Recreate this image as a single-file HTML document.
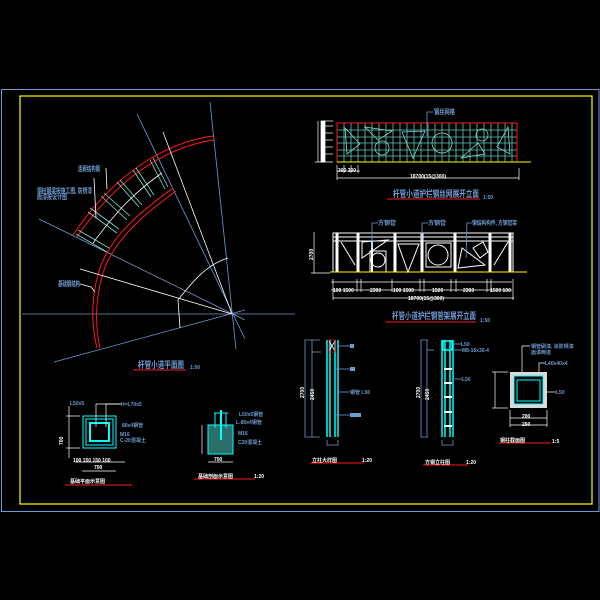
<!DOCTYPE html>
<html><head><meta charset="utf-8"><style>
html,body{margin:0;padding:0;background:#000;}
svg{display:block}
text{font-family:"Liberation Sans","Noto Sans CJK SC",sans-serif;font-weight:bold;}
</style></head><body>
<svg width="600" height="600" viewBox="0 0 600 600" xmlns="http://www.w3.org/2000/svg">
<rect width="600" height="600" fill="#000"/>
<rect x="1.5" y="89.5" width="597.5" height="422" fill="none" stroke="#6f9bd0" stroke-width="1"/>
<rect x="20" y="96" width="572" height="408" fill="none" stroke="#ffff00" stroke-width="1.2"/>

<!-- fan plan -->
<g stroke="#6f9bd0" stroke-width="0.8" fill="none">
<line x1="22" y1="314" x2="295" y2="314"/>
<line x1="39" y1="219" x2="245" y2="320"/>
<line x1="54" y1="362" x2="245" y2="310"/>
<line x1="137" y1="114" x2="245" y2="339"/>
<line x1="210" y1="102" x2="236" y2="349"/>
</g>
<g stroke="#ff1a1a" stroke-width="1" fill="none">
<path d="M213,136 C175,141 120,165 73,235"/>
<path d="M214,140 C177,145 123,169 77,237"/>
<path d="M173,188 C150,205 115,230 101,265 C92,290 90,320 97,348"/>
<path d="M176,191 C153,208 119,233 105,267 C96,292 94,322 100,348"/>
</g>
<g stroke="#7fe0d0" stroke-width="0.8">
<line x1="78" y1="230" x2="109" y2="248"/><line x1="76" y1="234" x2="107" y2="252"/>
<line x1="88" y1="212" x2="117" y2="233"/><line x1="90" y1="208" x2="119" y2="229"/>
<line x1="101" y1="196" x2="127" y2="220"/><line x1="104" y1="193" x2="130" y2="216"/>
<line x1="117" y1="182" x2="139" y2="207"/><line x1="120" y1="180" x2="142" y2="205"/>
<line x1="133" y1="170" x2="151" y2="197"/><line x1="136" y1="168" x2="154" y2="195"/>
<line x1="150" y1="160" x2="165" y2="189"/><line x1="153" y1="158" x2="168" y2="187"/>
</g>
<g stroke="#fff" stroke-width="0.8" fill="none">
<path d="M93,243 C110,220 130,195 162,173"/>
<line x1="163" y1="132" x2="232" y2="314"/>
<line x1="80" y1="269" x2="232" y2="314"/>
<path d="M178,300 C190,285 205,265 228,258"/>
<line x1="178" y1="300" x2="180" y2="328"/>
<line x1="106" y1="168" x2="107" y2="189"/><line x1="94" y1="178" x2="96" y2="218"/>
<path d="M80,284 L91,287 L95,292"/>
</g>
<g fill="#6f9bd0" font-size="7">
<text x="78" y="171" textLength="22" lengthAdjust="spacingAndGlyphs">连廊结构钢</text>
<text x="37" y="193" textLength="55" lengthAdjust="spacingAndGlyphs">钢柱钢梁按施工图, 防锈漆</text>
<text x="37" y="199" textLength="30" lengthAdjust="spacingAndGlyphs">面漆按设计图</text>
<text x="58" y="286" textLength="22" lengthAdjust="spacingAndGlyphs">基础钢结构</text>
<text x="138" y="368" font-size="9" textLength="46" lengthAdjust="spacingAndGlyphs">杆管小道平面图</text>
<text x="190" y="369" font-size="5">1:50</text>
</g>
<line x1="133" y1="370" x2="186" y2="370" stroke="#ff1a1a" stroke-width="1"/>

<!-- grid elevation -->
<g stroke="#5fc8c0" stroke-width="0.8">
<line x1="337" y1="130" x2="517" y2="130"/><line x1="337" y1="137" x2="517" y2="137"/>
<line x1="337" y1="143" x2="517" y2="143"/><line x1="337" y1="150" x2="517" y2="150"/>
<line x1="337" y1="156" x2="517" y2="156"/>
</g>
<g stroke="#5fc8c0" stroke-width="0.8">
<line x1="344" y1="123" x2="344" y2="162"/><line x1="351" y1="123" x2="351" y2="162"/><line x1="358" y1="123" x2="358" y2="162"/><line x1="365" y1="123" x2="365" y2="162"/><line x1="372" y1="123" x2="372" y2="162"/><line x1="379" y1="123" x2="379" y2="162"/><line x1="386" y1="123" x2="386" y2="162"/><line x1="393" y1="123" x2="393" y2="162"/><line x1="400" y1="123" x2="400" y2="162"/><line x1="407" y1="123" x2="407" y2="162"/><line x1="414" y1="123" x2="414" y2="162"/><line x1="421" y1="123" x2="421" y2="162"/><line x1="428" y1="123" x2="428" y2="162"/><line x1="435" y1="123" x2="435" y2="162"/><line x1="442" y1="123" x2="442" y2="162"/><line x1="449" y1="123" x2="449" y2="162"/><line x1="456" y1="123" x2="456" y2="162"/><line x1="463" y1="123" x2="463" y2="162"/><line x1="470" y1="123" x2="470" y2="162"/><line x1="477" y1="123" x2="477" y2="162"/><line x1="484" y1="123" x2="484" y2="162"/><line x1="491" y1="123" x2="491" y2="162"/><line x1="498" y1="123" x2="498" y2="162"/><line x1="505" y1="123" x2="505" y2="162"/><line x1="512" y1="123" x2="512" y2="162"/>
</g>
<g stroke="#7fe0d0" stroke-width="0.8" fill="none">
<path d="M345,128 L360,144 L347,154 Z"/>
<path d="M365,127 L392,131 L378,140 Z"/>
<circle cx="382" cy="148" r="7"/>
<path d="M402,132 L425,131 L413,158 Z"/>
<circle cx="442" cy="143" r="10"/>
<path d="M461,158 L478,143 L485,154 Z"/>
<circle cx="482" cy="135" r="6"/>
<path d="M508,127 L497,147 L510,154 Z"/>
</g>
<rect x="337" y="123" width="180" height="39" fill="none" stroke="#ff1a1a" stroke-width="1"/>
<line x1="337" y1="162" x2="531" y2="162" stroke="#ffff00" stroke-width="1"/>
<g stroke="#fff" stroke-width="0.7" fill="none">
<line x1="318" y1="121" x2="318" y2="162"/><line x1="315" y1="162" x2="333" y2="162"/>
<line x1="323" y1="121" x2="333" y2="121"/><line x1="323" y1="126" x2="333" y2="126"/><line x1="323" y1="133" x2="333" y2="133"/><line x1="323" y1="140" x2="333" y2="140"/><line x1="323" y1="147" x2="333" y2="147"/><line x1="323" y1="154" x2="333" y2="154"/>
<rect x="321" y="121" width="4" height="41" fill="#fff"/>
<line x1="337" y1="171" x2="360" y2="171"/><line x1="337" y1="178" x2="519" y2="178"/>
<line x1="337" y1="165" x2="337" y2="180"/><line x1="519" y1="168" x2="519" y2="180"/>
<line x1="344" y1="165" x2="344" y2="173"/><line x1="351" y1="165" x2="351" y2="173"/><line x1="358" y1="165" x2="358" y2="173"/>
</g>
<g fill="#fff" font-size="5"><text x="338" y="172">300 300</text><text x="410" y="178">18700(15@300)</text></g>
<path d="M427,136 L427,112 L433,112" stroke="#6f9bd0" stroke-width="0.8" fill="none"/>
<g fill="#6f9bd0" font-size="7">
<text x="434" y="114" textLength="21" lengthAdjust="spacingAndGlyphs">钢丝网格</text>
<text x="393" y="197" font-size="9" textLength="86" lengthAdjust="spacingAndGlyphs">杆管小道护栏钢丝网展开立面</text>
<text x="483" y="199" font-size="5">1:50</text>
</g>
<line x1="387" y1="199" x2="480" y2="199" stroke="#ff1a1a" stroke-width="1"/>

<!-- frame elevation -->
<g stroke="#fff" stroke-width="1" fill="none">
<rect x="333" y="233" width="180" height="39"/>
<line x1="333" y1="237" x2="513" y2="237"/><line x1="333" y1="241" x2="513" y2="241"/>
<line x1="337" y1="233" x2="337" y2="272" stroke-width="3"/>
<line x1="358" y1="233" x2="358" y2="272" stroke-width="3"/>
<line x1="372" y1="241" x2="372" y2="272" stroke-width="2"/>
<line x1="395" y1="233" x2="395" y2="272" stroke-width="3"/>
<line x1="422" y1="233" x2="422" y2="272" stroke-width="3"/>
<line x1="455" y1="233" x2="455" y2="272" stroke-width="3"/>
<line x1="490" y1="233" x2="490" y2="272" stroke-width="3"/>
<line x1="510" y1="233" x2="510" y2="272" stroke-width="3"/>
<line x1="341" y1="242" x2="355" y2="265"/>
<path d="M362,242 L388,240 L362,258 Z"/>
<circle cx="378" cy="260" r="7"/><rect x="370" y="251" width="16" height="21"/>
<path d="M398,244 L419,244 L408,272 Z"/>
<rect x="426" y="243" width="25" height="24"/><circle cx="438" cy="255" r="10"/>
<path d="M458,268 L485,265 L462,248 Z"/>
<path d="M473,248 L483,242 L488,252 L480,258 Z"/>
<line x1="508" y1="242" x2="494" y2="265"/>
</g>
<line x1="330" y1="272" x2="527" y2="272" stroke="#ffff00" stroke-width="1"/>
<g stroke="#fff" stroke-width="0.7">
<line x1="314" y1="232" x2="314" y2="273"/><line x1="311" y1="273" x2="330" y2="273"/>
<line x1="331" y1="282" x2="512" y2="282"/><line x1="331" y1="290" x2="512" y2="290"/><line x1="333" y1="298" x2="514" y2="298"/>
<line x1="333" y1="279" x2="333" y2="300"/><line x1="513" y1="279" x2="513" y2="300"/>
<line x1="357" y1="279" x2="357" y2="292"/><line x1="361" y1="279" x2="361" y2="292"/><line x1="392" y1="279" x2="392" y2="292"/><line x1="420" y1="279" x2="420" y2="292"/><line x1="424" y1="279" x2="424" y2="292"/><line x1="451" y1="279" x2="451" y2="292"/><line x1="456" y1="279" x2="456" y2="292"/><line x1="487" y1="279" x2="487" y2="292"/><line x1="491" y1="279" x2="491" y2="292"/>
</g>
<g fill="#fff" font-size="5"><text x="333" y="292">100 1500</text><text x="370" y="292">2300</text><text x="393" y="292">100 1500</text><text x="432" y="292">1500</text><text x="463" y="292">2300</text><text x="490" y="292">1500 100</text><text x="408" y="300">18700(15@300)</text><text x="313" y="260" transform="rotate(-90 313 260)">2700</text></g>
<g stroke="#6f9bd0" stroke-width="0.8" fill="none">
<path d="M372,248 L372,223 L378,223"/><path d="M422,240 L422,223 L428,223"/><path d="M466,258 L467,223 L472,223"/>
</g>
<g fill="#6f9bd0" font-size="6">
<text x="378" y="225">方钢管</text><text x="428" y="225">方钢管</text><text x="472" y="225" textLength="45" lengthAdjust="spacingAndGlyphs">钢结构构件, 方钢管架</text>
<text x="392" y="319" font-size="9" textLength="84" lengthAdjust="spacingAndGlyphs">杆管小道护栏钢管架展开立面</text>
<text x="480" y="322" font-size="5">1:50</text>
</g>
<line x1="386" y1="322" x2="476" y2="322" stroke="#ff1a1a" stroke-width="1"/>

<!-- bottom left detail -->
<g stroke="#00ffff" stroke-width="1" fill="none">
<rect x="83" y="416" width="33" height="32"/>
<rect x="86" y="419" width="27" height="26"/>
<rect x="90" y="423" width="19" height="18" stroke-width="2"/>
</g>
<g stroke="#fff" stroke-width="0.7" fill="none">
<line x1="69" y1="406" x2="69" y2="458"/><line x1="66" y1="416" x2="80" y2="416"/><line x1="66" y1="448" x2="80" y2="448"/>
<line x1="75" y1="462" x2="125" y2="462"/><line x1="82" y1="471" x2="116" y2="471"/>
<path d="M96,427 L96,404 L120,404"/><path d="M106,427 L106,404 L122,404"/>
</g>
<g fill="#6f9bd0" font-size="5">
<text x="70" y="405">L50x5</text><text x="121" y="406">H=L70x5</text><text x="122" y="427">80x4钢管</text><text x="120" y="436">M16</text><text x="120" y="442">C-20混凝土</text>
</g>
<g fill="#fff" font-size="5"><text x="73" y="462">100 150 150 100</text><text x="94" y="469">700</text><text x="63" y="445" transform="rotate(-90 63 445)">700</text><text x="70" y="483">基础平面示意图</text></g>
<line x1="65" y1="485" x2="132" y2="485" stroke="#ff1a1a" stroke-width="1"/>

<rect x="208" y="425" width="25" height="29" fill="#2a6f6a" stroke="#00ffff" stroke-width="1"/>
<g stroke="#00ffff" stroke-width="1"><line x1="215" y1="413" x2="215" y2="428"/><line x1="226" y1="413" x2="226" y2="428"/><line x1="214" y1="413" x2="228" y2="413"/><line x1="221" y1="410" x2="221" y2="440" stroke-width="2"/></g>
<g stroke="#fff" stroke-width="0.7"><line x1="202" y1="425" x2="202" y2="454"/><line x1="208" y1="462" x2="233" y2="462"/></g>
<g fill="#6f9bd0" font-size="5"><text x="239" y="416">L50x5钢管</text><text x="236" y="424">L-80x4钢管</text><text x="238" y="435">M16</text><text x="238" y="444">C20混凝土</text></g>
<g fill="#fff" font-size="5"><text x="214" y="461">700</text><text x="198" y="478">基础剖面示意图</text><text x="254" y="478">1:20</text></g>
<line x1="194" y1="479" x2="255" y2="479" stroke="#ff1a1a" stroke-width="1"/>

<!-- columns -->
<g stroke="#00ffff" stroke-width="1.5" fill="none">
<line x1="327" y1="340" x2="327" y2="437"/><line x1="330" y1="340" x2="330" y2="437"/><line x1="335" y1="340" x2="335" y2="437"/><line x1="338" y1="340" x2="338" y2="437"/>
<line x1="442" y1="340" x2="442" y2="437"/><line x1="445" y1="340" x2="445" y2="437"/><line x1="450" y1="340" x2="450" y2="437"/><line x1="453" y1="340" x2="453" y2="437"/>
<rect x="443" y="341" width="9" height="9"/>
</g>
<path d="M329,341 L335,351 M335,341 L329,351" stroke="#fff" stroke-width="0.8"/>
<rect x="329" y="340" width="6" height="12" fill="none" stroke="#ff1a1a" stroke-width="0.8"/>
<g stroke="#fff" stroke-width="2"><line x1="444" y1="369" x2="452" y2="369"/><line x1="444" y1="383" x2="452" y2="383"/><line x1="444" y1="397" x2="452" y2="397"/><line x1="444" y1="412" x2="452" y2="412"/><line x1="444" y1="426" x2="452" y2="426"/></g>
<g stroke="#6f9bd0" stroke-width="0.8" fill="none">
<path d="M320,340 L305,340 L305,437 L320,437"/><line x1="312" y1="352" x2="321" y2="352"/><line x1="312" y1="340" x2="312" y2="437"/>
<path d="M428,340 L421,340 L421,437 L428,437"/><line x1="427" y1="340" x2="427" y2="437"/><line x1="427" y1="350" x2="434" y2="350"/>
<path d="M327,440 L327,445 L338,445 L338,440"/><path d="M442,440 L442,445 L453,445 L453,440"/>
<line x1="338" y1="346" x2="350" y2="346"/><line x1="336" y1="369" x2="350" y2="369"/><line x1="338" y1="392" x2="350" y2="392"/><line x1="336" y1="415" x2="350" y2="415"/>
<line x1="453" y1="344" x2="462" y2="344"/><line x1="453" y1="350" x2="462" y2="350"/><line x1="453" y1="379" x2="462" y2="379"/>
</g>
<g fill="#6f9bd0" font-size="5">
<rect x="350" y="344" width="4" height="4"/><rect x="350" y="367" width="5" height="4"/>
<text x="350" y="394">钢管 L50</text><rect x="350" y="413" width="11" height="4"/>
<text x="461" y="346">L50</text><text x="462" y="352">M8-16x30-4</text><text x="462" y="381">L50</text>
</g>
<g fill="#fff" font-size="5">
<text x="304" y="398" transform="rotate(-90 304 398)">2700</text><text x="314" y="400" transform="rotate(-90 314 400)">2450</text>
<text x="420" y="398" transform="rotate(-90 420 398)">2700</text><text x="429" y="400" transform="rotate(-90 429 400)">2450</text>
<text x="312" y="462">立柱大样图</text><text x="362" y="462">1:20</text>
<text x="425" y="464">方钢立柱图</text><text x="466" y="464">1:20</text>
<text x="500" y="442">钢柱截面图</text><text x="552" y="443">1:5</text>
</g>
<line x1="310" y1="463" x2="364" y2="463" stroke="#ff1a1a" stroke-width="1"/>
<line x1="423" y1="465" x2="468" y2="465" stroke="#ff1a1a" stroke-width="1"/>
<line x1="499" y1="443" x2="551" y2="443" stroke="#ff1a1a" stroke-width="1"/>

<rect x="510" y="372" width="37" height="36" fill="#fff" opacity="0.85"/>
<rect x="514" y="376" width="29" height="28" fill="#000" stroke="#00ffff" stroke-width="1"/>
<rect x="517" y="380" width="23" height="21" fill="none" stroke="#00ffff" stroke-width="1"/>
<g stroke="#fff" stroke-width="0.7" fill="none">
<line x1="495" y1="372" x2="495" y2="408"/><line x1="492" y1="372" x2="508" y2="372"/><line x1="492" y1="408" x2="508" y2="408"/>
<line x1="510" y1="418" x2="547" y2="418"/><line x1="510" y1="425" x2="547" y2="425"/>
<line x1="510" y1="410" x2="510" y2="427"/><line x1="547" y1="410" x2="547" y2="427"/>
<path d="M522,372 L522,346 L530,346"/><path d="M539,372 L539,363 L545,363"/><line x1="547" y1="392" x2="556" y2="392"/>
</g>
<g fill="#6f9bd0" font-size="5"><text x="531" y="348">钢管刷漆, 涂防锈漆</text><text x="531" y="354">面漆两道</text><text x="545" y="365">L40x40x4</text><text x="556" y="394">L50</text></g>
<g fill="#fff" font-size="5"><text x="522" y="418">200</text><text x="522" y="426">250</text></g>
</svg>
</body></html>
